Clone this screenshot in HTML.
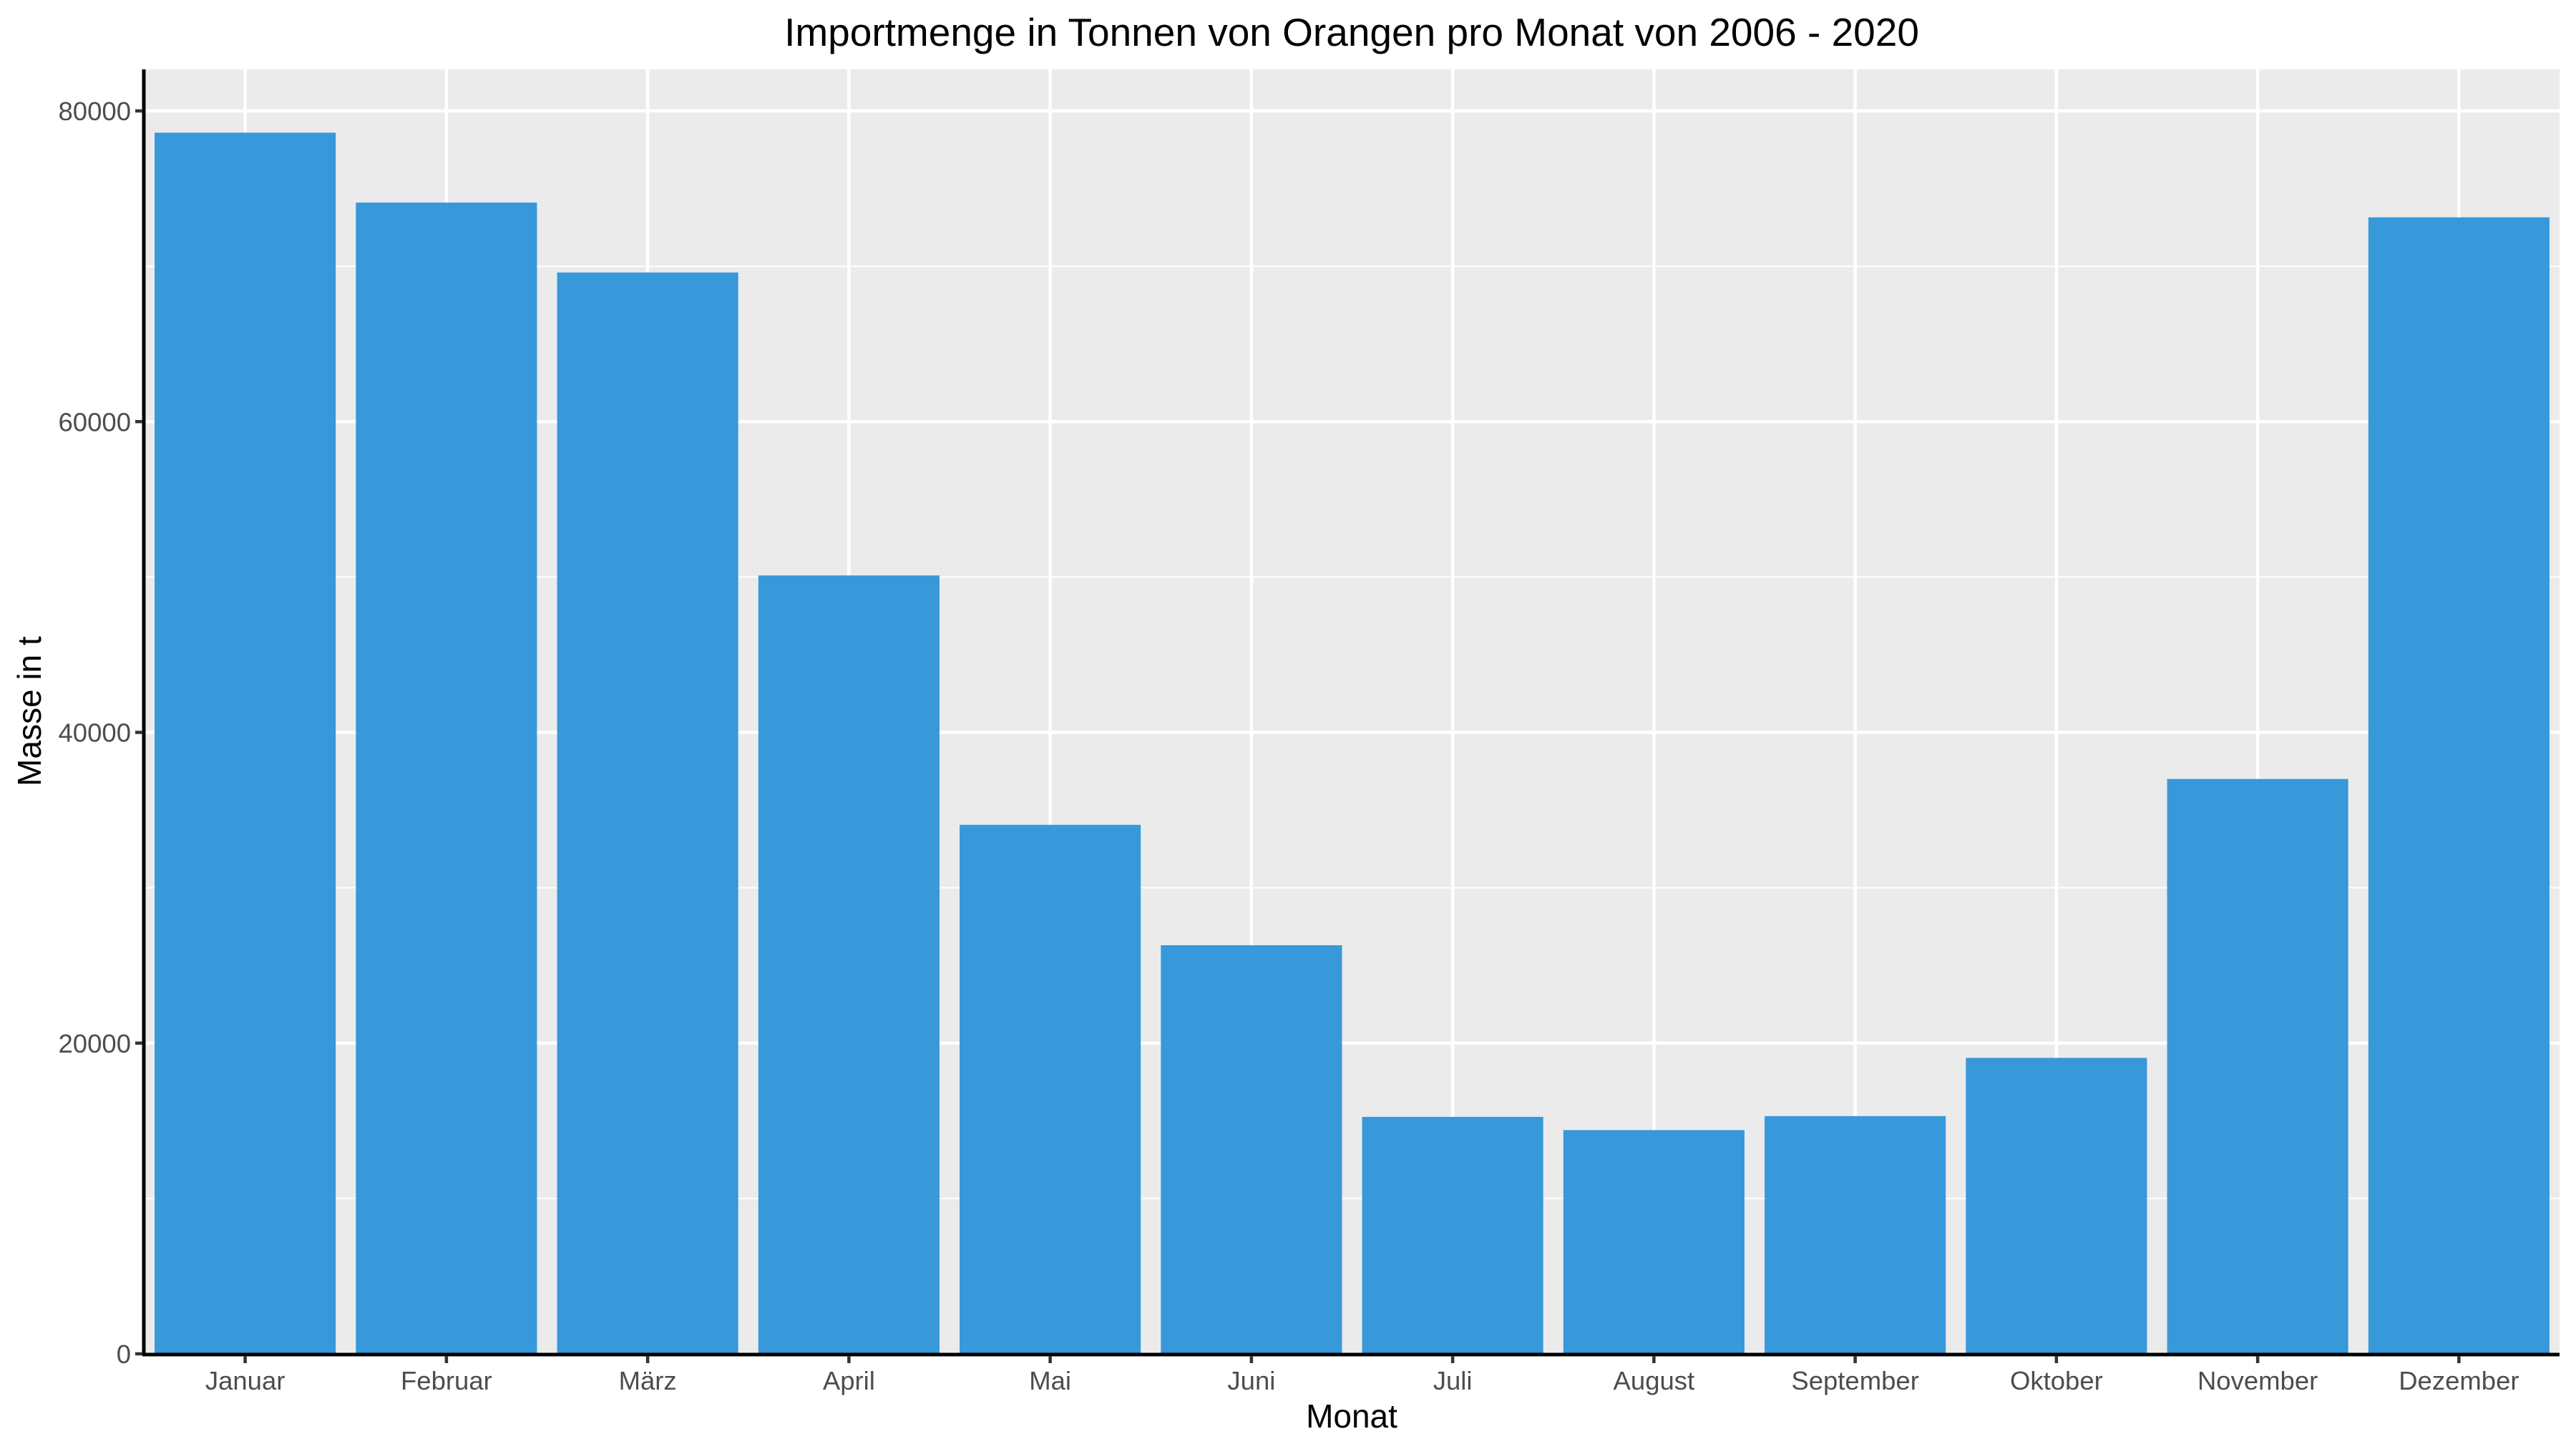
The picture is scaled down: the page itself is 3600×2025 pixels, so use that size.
<!DOCTYPE html>
<html><head><meta charset="utf-8"><style>
html,body{margin:0;padding:0;background:#fff;}
svg{display:block;font-family:"Liberation Sans",Arial,sans-serif;}
</style></head><body>
<svg id="chart" width="3600" height="2025" viewBox="0 0 3600 2025">
<text x="1889" y="64" text-anchor="middle" font-size="55" fill="#000">Importmenge in Tonnen von Orangen pro Monat von 2006 - 2020</text>
<rect x="202" y="97" width="3375" height="1795" fill="#ebebeb"/>
<g id="grid"></g>
<g id="bars"></g>
<g id="axes"></g>
<text x="1889" y="1995" text-anchor="middle" font-size="46" fill="#000">Monat</text>
<text transform="translate(57,994) rotate(-90)" text-anchor="middle" font-size="46" fill="#000">Masse in t</text>
</svg>
<script>
const categories = ["Januar","Februar","März","April","Mai","Juni","Juli","August","September","Oktober","November","Dezember"];
const values = [78600,74100,69600,50100,34050,26300,15250,14400,15300,19050,37000,73150];
const yTicks = [0,20000,40000,60000,80000];
const yTickLabels = ["0","20000","40000","60000","80000"];
const yMinor = [10000,30000,50000,70000];

const NS="http://www.w3.org/2000/svg";
const L=202,R=3577,T=97,B=1892;
const yMax=(B-T)/((B-155)/80000);
function y(v){return B-(v/yMax)*(B-T);}
const band=(R-L)/categories.length;
function xc(i){return L+band*(i+0.5);}
function mk(tag,attrs,parent){const e=document.createElementNS(NS,tag);for(const k in attrs)e.setAttribute(k,attrs[k]);parent.appendChild(e);return e;}
const grid=document.getElementById('grid'),bars=document.getElementById('bars'),axes=document.getElementById('axes');
yMinor.forEach(v=>{const l=mk('line',{x1:L,x2:R,y1:y(v),y2:y(v),stroke:'#fff','stroke-width':2},grid);

});
yTicks.forEach(v=>{const l=mk('line',{x1:L,x2:R,y1:y(v),y2:y(v),stroke:'#fff','stroke-width':4.5},grid);

});
categories.forEach((c,i)=>{const l=mk('line',{x1:xc(i),x2:xc(i),y1:T,y2:B,stroke:'#fff','stroke-width':4.5},grid);

});
const bw=band*0.9;
values.forEach((v,i)=>{const r=mk('rect',{x:xc(i)-bw/2,y:y(v),width:bw,height:B-y(v),fill:'#3798da'},bars);

});
let a=mk('line',{x1:L-1,x2:L-1,y1:T,y2:B+2,stroke:'#000','stroke-width':5},axes);


a=mk('line',{x1:L-3,x2:R,y1:B+1,y2:B+1,stroke:'#000','stroke-width':5},axes);


yTicks.forEach((v,i)=>{const t=mk('line',{x1:L-13,x2:L-3,y1:y(v),y2:y(v),stroke:'#333','stroke-width':4.5},axes);


const tx=mk('text',{x:L-19,y:y(v)+13,'text-anchor':'end','font-size':36.5,fill:'#4d4d4d'},axes);tx.textContent=yTickLabels[i];

});
categories.forEach((c,i)=>{const t=mk('line',{x1:xc(i),x2:xc(i),y1:B+3,y2:B+13,stroke:'#333','stroke-width':4.5},axes);


const tx=mk('text',{x:xc(i),y:B+50,'text-anchor':'middle','font-size':36.5,fill:'#4d4d4d'},axes);tx.textContent=c;

});
</script>
</body></html>
